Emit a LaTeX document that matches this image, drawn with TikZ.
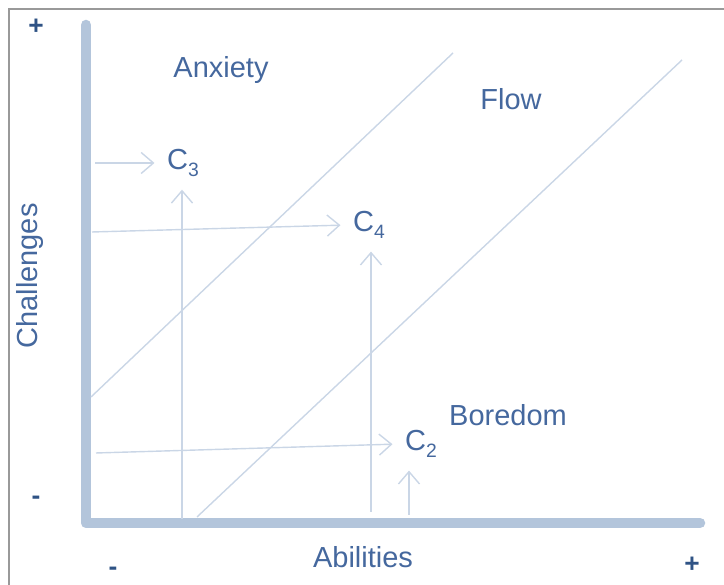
\documentclass[tikz,border=0pt]{standalone}
\usepackage{fontspec}
\setmainfont{Liberation Sans}
\usepackage{xcolor}
\usepackage{tikz}
\usetikzlibrary{positioning,calc,arrows.meta}
\definecolor{axisblue}{HTML}{B3C5DB}
\definecolor{thinblue}{HTML}{CAD6E6}
\definecolor{textblue}{HTML}{45689E}
\definecolor{signblue}{HTML}{2F5385}
\newcommand{\lowidx}[1]{\raisebox{-0.5ex}{\fontsize{11}{11}\selectfont #1}}
\tikzset{
  frame/.style      = {draw=black!40, line width=0.8pt},
  axisbar/.style    = {draw=axisblue, line width=6pt, line cap=round, line join=round},
  diag/.style       = {draw=thinblue, line width=0.8pt},
  arrowto/.style    = {-{Straight Barb[length=7pt,width=12pt]}, draw=thinblue, line width=0.8pt, shorten >=4pt},
  zone/.style       = {font=\fontsize{16.5}{20}\selectfont, text=textblue, inner sep=0pt},
  cpt/.style        = {font=\fontsize{16.5}{20}\selectfont, text=textblue, inner sep=3pt},
  sign/.style       = {font=\fontsize{15}{18}\selectfont\bfseries, text=signblue, inner sep=0pt},
}
\begin{document}
\begin{tikzpicture}[x=1cm,y=1cm]
  \useasboundingbox (0,0) rectangle (14.48,11.7);
  \draw[frame] (0.18,0) -- (0.18,11.52) -- (14.48,11.52);

  % axes
  \draw[axisbar] (1.72,11.2) -- (1.72,1.24) -- (14.0,1.24);

  % zone borders
  \draw[diag] (1.82,3.76) -- (9.06,10.64);
  \draw[diag] (3.94,1.36) -- (13.64,10.5);

  % zone and axis texts
  \node[zone] (anxiety) at (4.42,10.3) {Anxiety};
  \node[zone] (flow) at (10.22,9.72) {Flow};
  \node[zone] (boredom) at (10.16,3.4) {Boredom};
  \node[zone] (abilities) at (7.26,0.56) {Abilities};
  \node[zone, rotate=90] (challenges) at (0.6,6.18) {Challenges};

  \node[sign] (cplus) at (0.72,11.16) {+};
  \node[sign] (cminus) at (0.72,1.7) {-};
  \node[sign] (aminus) at (2.26,0.28) {-};
  \node[sign] (aplus) at (13.84,0.4) {+};

  % challenge points
  \node[cpt] (c3) at (3.66,8.44) {C\lowidx{3}};
  \node[cpt] (c4) at (7.38,7.2) {C\lowidx{4}};
  \node[cpt] (c2) at (8.42,2.82) {C\lowidx{2}};

  \coordinate (h3) at (1.9,8.44);
  \coordinate (h4) at (1.84,7.06);
  \coordinate (h2) at (1.92,2.64);
  \coordinate (v3) at (3.64,1.32);
  \coordinate (v4) at (7.42,1.46);
  \coordinate (v2) at (8.18,1.4);

  \draw[arrowto] (h3) -- (c3.west);
  \draw[arrowto] (h4) -- (c4.west);
  \draw[arrowto] (h2) -- (c2.west);
  \draw[arrowto] (v3) -- (v3 |- c3.south);
  \draw[arrowto] (v4) -- (v4 |- c4.south);
  \draw[arrowto] (v2) -- (v2 |- c2.south);
\end{tikzpicture}
\end{document}
